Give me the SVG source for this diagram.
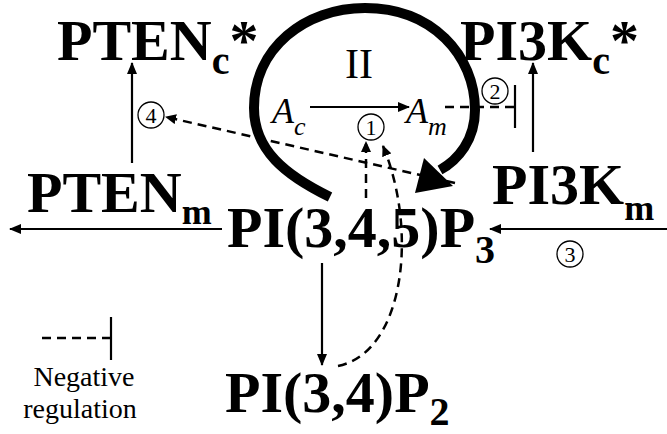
<svg xmlns="http://www.w3.org/2000/svg" width="667" height="434" viewBox="0 0 667 434">
<style>
.big{font-weight:bold;font-size:58px;fill:#000}
.sub{font-size:40px}
.subm{font-size:36px}
.it{font-style:italic;font-size:36px;fill:#000}
.reg{font-size:28px;fill:#000}
.num{font-size:22px;fill:#000;text-anchor:middle}
.circ{fill:none;stroke:#000;stroke-width:1.3}
.solid{fill:none;stroke:#000;stroke-width:2.2}
.dash{fill:none;stroke:#000;stroke-width:2.5;stroke-dasharray:9 6}
</style>
<defs>
<marker id="ah" markerWidth="12" markerHeight="10" refX="11" refY="5" orient="auto" markerUnits="userSpaceOnUse">
<path d="M0,0 L12,5 L0,10 z" fill="#000"/>
</marker>
<marker id="ahd" markerWidth="11" markerHeight="10" refX="10" refY="5" orient="auto" markerUnits="userSpaceOnUse">
<path d="M0,0 L11,5 L0,10 z" fill="#000"/>
</marker>
</defs>

<g id="pten-c"><text class="big" x="57" y="60" font-family="Liberation Serif" style="font-family:Liberation Serif">PTEN<tspan class="sub" dy="14">c</tspan><tspan dy="-14">*</tspan></text></g>
<g id="pi3k-c"><text class="big" x="460" y="60" font-family="Liberation Serif" style="font-family:Liberation Serif">PI3K<tspan class="sub" dy="14">c</tspan><tspan dy="-14">*</tspan></text></g>
<g id="pten-m"><text class="big" x="27" y="212" font-family="Liberation Serif" style="font-family:Liberation Serif">PTEN<tspan class="subm" dy="12">m</tspan></text></g>
<g id="pi3k-m"><text class="big" x="492" y="204" font-family="Liberation Serif" style="font-family:Liberation Serif">PI3K<tspan class="subm" dy="16">m</tspan></text></g>
<g id="pip3"><text class="big" x="227" y="247" font-family="Liberation Serif" style="font-family:Liberation Serif">PI(3,4,5)P<tspan class="sub" dy="16">3</tspan></text></g>
<g id="pip2"><text class="big" x="225" y="412" font-family="Liberation Serif" style="font-family:Liberation Serif">PI(3,4)P<tspan class="sub" dy="13">2</tspan></text></g>
<g id="loop-label"><text class="reg" x="345" y="78" font-family="Liberation Serif" style="font-family:Liberation Serif;font-size:42px">II</text></g>
<g id="ac"><text class="it" x="272" y="123" font-family="Liberation Serif" style="font-family:Liberation Serif">A<tspan dy="12" style="font-size:26px">c</tspan></text></g>
<g id="am"><text class="it" x="406" y="123" font-family="Liberation Serif" style="font-family:Liberation Serif">A<tspan dy="12" style="font-size:26px">m</tspan></text></g>

<g id="c1"><circle class="circ" cx="371" cy="127" r="13"/><text class="num" x="371" y="135" font-family="Liberation Serif" style="font-family:Liberation Serif">1</text></g>
<g id="c2"><circle class="circ" cx="495" cy="91" r="13"/><text class="num" x="495" y="99" font-family="Liberation Serif" style="font-family:Liberation Serif">2</text></g>
<g id="c3"><circle class="circ" cx="570" cy="254" r="13"/><text class="num" x="570" y="262" font-family="Liberation Serif" style="font-family:Liberation Serif">3</text></g>
<g id="c4"><circle class="circ" cx="151" cy="115" r="13"/><text class="num" x="151" y="123" font-family="Liberation Serif" style="font-family:Liberation Serif">4</text></g>

<g id="legend">
<line class="dash" x1="42" y1="338" x2="110" y2="338"/>
<line class="solid" x1="111" y1="317" x2="111" y2="360"/>
<text class="reg" x="84" y="386" text-anchor="middle" font-family="Liberation Serif" style="font-family:Liberation Serif">Negative</text>
<text class="reg" x="80" y="418" text-anchor="middle" font-family="Liberation Serif" style="font-family:Liberation Serif">regulation</text>
</g>

<g id="connectors">
<path d="M330,197 C285,175 254,150 254,108 C254,48 305,8 365,8 C432,8 475,55 475,110 C475,140 458,160 440,170" fill="none" stroke="#000" stroke-width="10"/>
<polygon points="415,193 424,158 453,186" fill="#000"/>
<line class="solid" x1="132" y1="163" x2="132" y2="63" marker-end="url(#ah)"/>
<line class="solid" x1="533" y1="152" x2="533" y2="63" marker-end="url(#ah)"/>
<line class="solid" x1="222" y1="229" x2="10" y2="229" marker-end="url(#ah)"/>
<line class="solid" x1="667" y1="229" x2="490" y2="229" marker-end="url(#ah)"/>
<line class="solid" x1="322" y1="263" x2="322" y2="365" marker-end="url(#ah)"/>
<line class="solid" x1="310" y1="107" x2="409" y2="107" marker-end="url(#ah)"/>
<line class="dash" x1="445" y1="107" x2="515" y2="107"/>
<line class="solid" x1="515" y1="85" x2="515" y2="128"/>
<line class="dash" x1="455" y1="183" x2="166" y2="117" marker-end="url(#ahd)"/>
<line class="dash" x1="366" y1="198" x2="366" y2="142" marker-end="url(#ahd)"/>
<path class="dash" d="M338,366 C405,352 418,230 383,146" marker-end="url(#ahd)"/>
</g>
</svg>
